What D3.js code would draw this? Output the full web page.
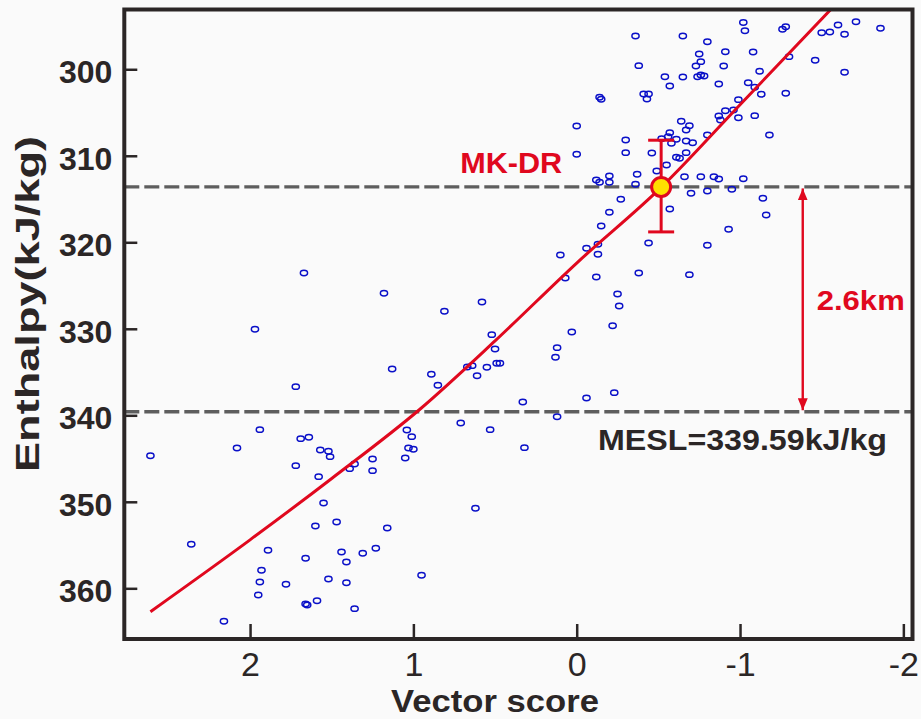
<!DOCTYPE html>
<html>
<head>
<meta charset="utf-8">
<script src="https://cdn.jsdelivr.net/npm/d3@7"></script>
<style>
  body {
    margin: 0;
    background: #fafafa;
  }
  svg {
    display: block;
    font-family: "Liberation Sans", Arial, sans-serif;
  }
</style>
</head>
<body>
<svg class="chart" width="921" height="719"></svg>
<script>
const vectorScore = [
  -1.02, -1.03, -1.26, -1.28, -1.60, -1.71, -1.86, -1.50, -1.55, -1.64,
  -0.36, -0.65, -0.80, -0.75, -0.91, -1.08, -0.76, -0.73, -0.90, -0.38,
  -1.30, -1.46, -1.64, -1.12, -0.54, -0.65, -0.74, -0.76, -0.78, -0.57,
  -0.87, -1.05, -1.09, -1.13, -1.28, -0.14, -0.15, -0.41, -0.44, -0.43,
  -0.99, -0.91, -0.96, -0.87, -0.88, -0.99, -1.09, 0.00, -0.64, -0.69,
  -0.67, -0.80, -1.18, -0.30, -0.57, -0.56, -0.52, -0.61, -0.58, -0.67,
  -0.71, 0.00, -0.30, -0.46, -0.67, -0.61, -0.63, -0.55, -0.49, -0.12,
  -0.14, -0.20, -0.20, -0.37, -0.36, -0.66, -0.76, -0.84, -0.87, -1.02,
  -0.70, -0.80, -0.95, -0.27, -0.57, -1.14, -1.16, -0.20, -0.15, -0.93,
  -0.44, -0.80, 0.10, -0.06, -0.13, -0.13, 0.07, -0.12, -0.38, -0.69,
  -0.25, -0.26, -0.22, 0.03, 0.12, 0.13, 0.33, -0.06, -0.23, 0.12,
  0.32, 1.97, 0.52, 0.50, 1.13, 0.89, 0.85, 0.67, 0.64, 0.61,
  0.55, 0.49, 0.47, 1.72, 0.71, 0.53, 1.94, 2.61, 2.08, 1.69,
  1.64, 1.57, 1.52, 1.51, 1.72, 1.58, 1.39, 1.36, 1.25, 1.25,
  1.04, 1.01, 1.03, 1.00, 1.05, 1.55, 1.60, 1.47, 1.16, 0.62,
  2.36, 1.89, 1.66, 1.44, 1.41, 1.31, 1.23, 1.93, 1.94, 1.78,
  1.52, 1.41, 0.95, 1.95, 1.66, 1.65, 1.59, 1.36, 2.16, 1.67,
  1.18, 0.81, 0.58,
];

const enthalpy = [
  294.6, 295.54, 295.38, 295.08, 294.88, 294.5, 295.26, 295.77, 295.69, 295.95,
  296.15, 296.15, 296.81, 298.23, 297.97, 298.0, 299.12, 299.62, 299.62, 299.58,
  298.54, 298.96, 300.35, 300.23, 300.86, 300.89, 300.86, 300.66, 300.77, 301.93,
  301.7, 301.55, 302.08, 302.89, 302.77, 303.24, 303.47, 302.86, 302.86, 303.43,
  303.51, 304.79, 304.7, 305.4, 305.86, 305.6, 305.36, 306.55, 306.01, 306.52,
  307.02, 307.59, 307.59, 308.17, 307.33, 307.79, 308.02, 308.09, 308.55, 308.29,
  308.49, 309.83, 309.64, 309.68, 309.64, 310.17, 310.29, 311.06, 311.76, 312.8,
  313.06, 312.33, 313.06, 312.14, 313.29, 312.42, 312.42, 312.42, 312.68, 312.65,
  314.33, 314.07, 313.87, 315.03, 316.15, 314.91, 316.84, 316.53, 318.11, 318.5,
  320.08, 320.35, 321.47, 320.69, 320.23, 321.39, 324.13, 324.01, 323.55, 323.74,
  325.97, 327.36, 329.64, 330.37, 332.18, 333.29, 338.46, 338.0, 337.38, 340.16,
  343.74, 330.06, 330.68, 332.33, 334.64, 335.26, 336.53, 334.41, 334.26, 335.42,
  334.45, 333.99, 333.99, 336.69, 340.89, 341.66, 341.66, 344.67, 343.78, 342.7,
  342.54, 344.01, 344.16, 344.78, 345.82, 347.09, 346.17, 345.63, 345.05, 346.4,
  341.7, 342.47, 343.78, 343.93, 344.93, 350.13, 352.79, 352.33, 353.02, 350.75,
  354.91, 355.6, 356.53, 355.8, 356.96, 355.95, 355.37, 357.92, 359.27, 359.53,
  358.92, 359.35, 358.49, 360.77, 361.81, 361.93, 361.43, 362.35, 363.81, 323.55,
  325.89, 327.97, 326.9,
];

// fitted curve
const fitScore = [2.61, 2.0, 1.5, 0.96, 0.5, 0, -0.52, -1.0, -1.56];
const fitEnthalpy = [362.7, 354.4, 347.3, 339.3, 331.4, 322.4, 313.6, 304.1, 293.0];

const mkdrScore = -0.517;
const mkdrEnthalpy = 313.6;
const mkdrRange = [308.2, 318.8];
const meslEnthalpy = 339.59;
const arrowScore = -1.384;

const xTicks = [2, 1, 0, -1, -2];
const yTicks = [300, 310, 320, 330, 340, 350, 360];

const red = "#e0081e";
const dark = "#2b2626";

function createChart() {
  const svg = d3.select(".chart");
  const left = 124.3;
  const right = 912.5;
  const top = 9.5;
  const bottom = 639;

  svg.append("rect").attr("width", 921).attr("height", 719).attr("fill", "#fafafa");

  const xScale = d3.scaleLinear().domain([2.77, -2.056]).range([left, right]);
  const yScale = d3.scaleLinear().domain([293.09, 365.86]).range([top, bottom]);

  svg
    .append("clipPath")
    .attr("id", "plot-clip")
    .append("rect")
    .attr("x", left)
    .attr("y", top)
    .attr("width", right - left)
    .attr("height", bottom - top);

  const xAxis = d3
    .axisBottom(xScale)
    .tickValues(xTicks)
    .tickSize(-15)
    .tickPadding(13.3)
    .tickFormat(d3.format("d"));
  const gx = svg
    .append("g")
    .attr("transform", "translate(0, " + bottom + ")")
    .call(xAxis);
  gx.select(".domain").remove();
  gx.selectAll(".tick line").attr("stroke", dark).attr("stroke-width", 2.5);
  gx.selectAll(".tick text")
    .attr("fill", dark)
    .attr("font-size", 34)
    .attr("font-family", "Liberation Sans, Arial, sans-serif")
    .text((d) => (d < 0 ? "-" + Math.abs(d) : d));

  const yAxis = d3.axisLeft(yScale).tickValues(yTicks).tickSize(-13).tickPadding(12);
  const gy = svg
    .append("g")
    .attr("transform", "translate(" + left + ", 0)")
    .call(yAxis);
  gy.select(".domain").remove();
  gy.selectAll(".tick line").attr("stroke", dark).attr("stroke-width", 2.5);
  gy.selectAll(".tick text")
    .attr("fill", dark)
    .attr("font-size", 32)
    .attr("font-weight", "bold")
    .attr("font-family", "Liberation Sans, Arial, sans-serif")
    .attr("dy", "0.42em");

  const plot = svg.append("g").attr("clip-path", "url(#plot-clip)");

  plot
    .selectAll(".level")
    .data([mkdrEnthalpy, meslEnthalpy])
    .enter()
    .append("line")
    .attr("class", "level")
    .attr("x1", left)
    .attr("x2", right)
    .attr("y1", (d) => yScale(d))
    .attr("y2", (d) => yScale(d))
    .attr("stroke", "#5e5e5e")
    .attr("stroke-width", 3.3)
    .attr("stroke-dasharray", "15,5");

  const dataset = vectorScore.map((x, i) => ({ x: x, y: enthalpy[i] }));

  plot
    .selectAll(".dot")
    .data(dataset)
    .enter()
    .append("ellipse")
    .attr("class", "dot")
    .attr("cx", (d) => xScale(d.x))
    .attr("cy", (d) => yScale(d.y))
    .attr("rx", 3.6)
    .attr("ry", 2.7)
    .attr("fill", "none")
    .attr("stroke", "#0a10c8")
    .attr("stroke-width", 1.5);

  const fit = fitScore.map((x, i) => [xScale(x), yScale(fitEnthalpy[i])]);
  plot
    .append("path")
    .attr("d", d3.line().curve(d3.curveMonotoneX)(fit))
    .attr("fill", "none")
    .attr("stroke", red)
    .attr("stroke-width", 3);

  // MK-DR error bar and point
  const mx = xScale(mkdrScore);
  const err = svg.append("g").attr("stroke", red).attr("stroke-width", 3);
  err
    .append("line")
    .attr("x1", mx)
    .attr("x2", mx)
    .attr("y1", yScale(mkdrRange[0]))
    .attr("y2", yScale(mkdrRange[1]));
  err
    .selectAll(".cap")
    .data(mkdrRange)
    .enter()
    .append("line")
    .attr("x1", mx - 13)
    .attr("x2", mx + 13)
    .attr("y1", (d) => yScale(d))
    .attr("y2", (d) => yScale(d));

  svg
    .append("circle")
    .attr("cx", mx)
    .attr("cy", yScale(mkdrEnthalpy))
    .attr("r", 9.5)
    .attr("fill", "#ffe000")
    .attr("stroke", red)
    .attr("stroke-width", 3);

  svg
    .append("text")
    .text("MK-DR")
    .attr("x", mx - 99)
    .attr("y", yScale(mkdrEnthalpy) - 14)
    .attr("text-anchor", "end")
    .attr("font-size", 30)
    .attr("font-weight", "bold")
    .attr("fill", red)
    .attr("textLength", 102)
    .attr("lengthAdjust", "spacingAndGlyphs");

  // 2.6 km arrow between the two levels
  const defs = svg.append("defs");
  defs
    .append("marker")
    .attr("id", "head")
    .attr("viewBox", "0 0 12 10")
    .attr("refX", 12)
    .attr("refY", 5)
    .attr("markerWidth", 12)
    .attr("markerHeight", 10)
    .attr("markerUnits", "userSpaceOnUse")
    .attr("orient", "auto-start-reverse")
    .append("path")
    .attr("d", "M0,0L12,5L0,10Z")
    .attr("fill", red);

  const ax = xScale(arrowScore);
  svg
    .append("line")
    .attr("x1", ax)
    .attr("x2", ax)
    .attr("y1", yScale(mkdrEnthalpy) + 1.5)
    .attr("y2", yScale(meslEnthalpy) - 1.5)
    .attr("stroke", red)
    .attr("stroke-width", 2.4)
    .attr("marker-start", "url(#head)")
    .attr("marker-end", "url(#head)");

  svg
    .append("text")
    .text("2.6km")
    .attr("x", ax + 14)
    .attr("y", (yScale(mkdrEnthalpy) + yScale(meslEnthalpy)) / 2 + 11)
    .attr("font-size", 28)
    .attr("font-weight", "bold")
    .attr("fill", red)
    .attr("textLength", 88)
    .attr("lengthAdjust", "spacingAndGlyphs");

  svg
    .append("text")
    .text("MESL=339.59kJ/kg")
    .attr("x", 598)
    .attr("y", yScale(meslEnthalpy) + 38)
    .attr("font-size", 30)
    .attr("font-weight", "bold")
    .attr("fill", dark)
    .attr("textLength", 289)
    .attr("lengthAdjust", "spacingAndGlyphs");

  // frame
  svg
    .append("rect")
    .attr("x", left)
    .attr("y", top)
    .attr("width", right - left)
    .attr("height", bottom - top)
    .attr("fill", "none")
    .attr("stroke", dark)
    .attr("stroke-width", 4);

  svg
    .append("text")
    .text("Vector score")
    .attr("x", 495)
    .attr("y", 712.3)
    .attr("text-anchor", "middle")
    .attr("font-size", 31)
    .attr("font-weight", "bold")
    .attr("fill", dark)
    .attr("textLength", 208)
    .attr("lengthAdjust", "spacingAndGlyphs");

  svg
    .append("text")
    .text("Enthalpy(kJ/kg)")
    .attr("transform", "translate(38.5, 304) rotate(-90)")
    .attr("text-anchor", "middle")
    .attr("font-size", 33)
    .attr("font-weight", "bold")
    .attr("fill", dark)
    .attr("textLength", 336)
    .attr("lengthAdjust", "spacingAndGlyphs");
}

createChart();
</script>
</body>
</html>
